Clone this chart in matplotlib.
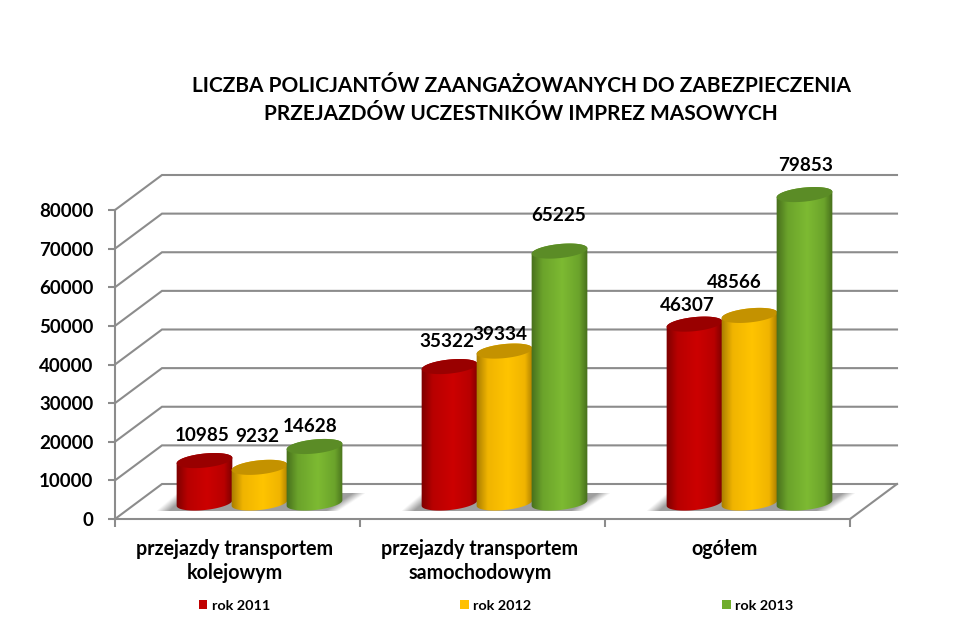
import numpy as np
import matplotlib

matplotlib.use("Agg")
import matplotlib.pyplot as plt
from matplotlib.colors import LinearSegmentedColormap
from matplotlib.patches import Patch, Polygon
from matplotlib.transforms import IdentityTransform

categories = ["przejazdy transportem\nkolejowym", "przejazdy transportem\nsamochodowym", "ogółem"]
series_names = ["rok 2011", "rok 2012", "rok 2013"]
rok_2011 = [10985, 35322, 46307]
rok_2012 = [9232, 39334, 48566]
rok_2013 = [14628, 65225, 79853]
yticks = [0, 10000, 20000, 30000, 40000, 50000, 60000, 70000, 80000]

# hand placed labels, px from top centre of each cylinder
label_shift = [
    [(-2, 25), (-2, 31), (-4, 20)],
    [(-3, 25), (-5, 17), (-1, 36)],
    [(-7, 19), (-15, 33), (1, 29)],
]

title = "LICZBA POLICJANTÓW ZAANGAŻOWANYCH DO ZABEZPIECZENIA\nPRZEJAZDÓW UCZESTNIKÓW IMPREZ MASOWYCH"

# side shading of the cylinders: edge, middle, highlight, middle, edge
shades = [
    ["#7d0000", "#b80000", "#cc0000", "#b80000", "#7d0000"],
    ["#a87c00", "#f0b400", "#ffc400", "#f0b400", "#a87c00"],
    ["#476f1c", "#6ba32b", "#7dba32", "#6ba32b", "#476f1c"],
]
top_colors = ["#990000", "#c49200", "#5b8c26"]
legend_colors = ["#c00000", "#ffc000", "#70ad2c"]
GRID = "#8c8c8c"

plt.rcParams["font.family"] = ["Lato", "DejaVu Sans"]
plt.rcParams["font.weight"] = "bold"

fig = plt.figure(figsize=(9.8, 6.35), dpi=100)
ax = fig.add_axes([115 / 980, 1 - 519 / 635, 735 / 980, 309 / 635])
ax.set_xlim(0, 3)
ax.set_ylim(0, 80000)
ax.set_autoscale_on(False)
ax.patch.set_alpha(0)

px_x = 1 / 245
px_y = 80000 / 309
depth_x = 47 * px_x
depth_y = 35 * px_y

# walls and floor
for v in yticks:
    ax.plot([0, depth_x, 3 + depth_x], [v, v + depth_y, v + depth_y],
            color=GRID, lw=1.5, clip_on=False, zorder=1, solid_joinstyle="miter")
ax.plot([3, 3 + depth_x], [0, depth_y], color=GRID, lw=1.5, clip_on=False, zorder=1)


def add_shadow(xc):
    w, h = 208, 19
    xx, yy = np.meshgrid(np.arange(w), np.arange(h))
    left = 20 * (1 - yy / (h - 1))
    right = w - 26 * yy / (h - 1)
    alpha = np.clip((xx - left) / 13, 0, 1) * np.clip((right - xx) / 13, 0, 1)
    img = np.zeros((h, w, 4))
    img[..., :3] = 0.62
    img[..., 3] = alpha
    ax.imshow(img, extent=[xc - 104 * px_x, xc + 104 * px_x, 8 * px_y, 26 * px_y],
              aspect="auto", interpolation="bilinear", zorder=2, clip_on=False)


def ellipse_pts(cx, cy, t, rx=28.0, ry=7.0, tilt=6.0):
    a = np.radians(tilt)
    ex, ey = rx * np.cos(t), ry * np.sin(t)
    return np.column_stack([cx + ex * np.cos(a) - ey * np.sin(a),
                            cy + ex * np.sin(a) + ey * np.cos(a)])


def add_cylinder(xc, value, shade, top_color, z):
    x0, y0 = ax.transData.transform((xc, 0))
    y0 += 16
    y1 = ax.transData.transform((xc, value))[1] + 16
    lower = ellipse_pts(x0, y0, np.linspace(np.pi, 2 * np.pi, 60))
    upper = ellipse_pts(x0, y1, np.linspace(0, np.pi, 60))
    body = Polygon(np.vstack([lower, upper]), closed=True, transform=IdentityTransform(),
                   facecolor="none", edgecolor="none")
    ax.add_patch(body)
    cmap = LinearSegmentedColormap.from_list("side", list(zip([0, 0.2, 0.55, 0.85, 1], shade)))
    grad = np.linspace(0, 1, 80)[None, :]
    im = ax.imshow(grad, cmap=cmap, aspect="auto", zorder=z, interpolation="bilinear",
                   extent=[xc - 28.5 * px_x, xc + 28.5 * px_x, -5 * px_y, value + 40 * px_y])
    # images stop at the axes box unless told otherwise, the tall ones go above it
    im.set_clip_box(fig.bbox)
    im.set_clip_path(body)
    cap = Polygon(ellipse_pts(x0, y1, np.linspace(0, 2 * np.pi, 90)), closed=True,
                  transform=IdentityTransform(), facecolor=top_color, edgecolor="none",
                  zorder=z + 0.5, clip_on=False)
    ax.add_patch(cap)
    return x0, y1


all_series = [rok_2011, rok_2012, rok_2013]
for i in range(len(categories)):
    xc = i + 0.5 + 22 * px_x
    add_shadow(xc)
    for j, vals in enumerate(all_series):
        x = xc + (j - 1) * 55 * px_x
        add_cylinder(x, vals[i], shades[j], top_colors[j], 3 + j)
        dx, dy = label_shift[i][j]
        ax.annotate(str(vals[i]), (x, vals[i]), xytext=(dx, 16 + dy), xycoords="data",
                    textcoords="offset pixels", ha="center", va="center",
                    fontsize=13.6, color="black", zorder=10, annotation_clip=False)

ax.set_xlim(0, 3)
ax.set_ylim(0, 80000)

for side in ["top", "right"]:
    ax.spines[side].set_visible(False)
for side in ["left", "bottom"]:
    ax.spines[side].set_color(GRID)
    ax.spines[side].set_linewidth(1.5)

ax.set_yticks(yticks)
ax.set_yticklabels([str(v) for v in yticks], fontsize=13.5)
ax.tick_params(axis="y", length=5, width=1.5, color=GRID, pad=10.5)
ax.set_xticks([0, 1, 2, 3])
ax.set_xticklabels([])
ax.tick_params(axis="x", length=6, width=1.5, color=GRID)
ax.set_xticks(np.arange(3) + 0.5 - 2.5 * px_x, minor=True)
ax.set_xticklabels(categories, minor=True, fontsize=14.1, linespacing=1.22)
ax.tick_params(axis="x", which="minor", length=0, pad=14.5)

fig.text(521 / 980, 1 - 99.5 / 635, title, ha="center", va="center", fontsize=15.0, linespacing=1.5)

handles = [Patch(facecolor=c, edgecolor="none") for c in legend_colors]
fig.legend(handles, series_names, ncols=3, frameon=False, loc="center",
           bbox_to_anchor=(496 / 980, 1 - 606 / 635), fontsize=10.4,
           handlelength=0.6, handleheight=0.6, handletextpad=0.3, columnspacing=13.2)

fig.savefig("out.png", dpi=100)
